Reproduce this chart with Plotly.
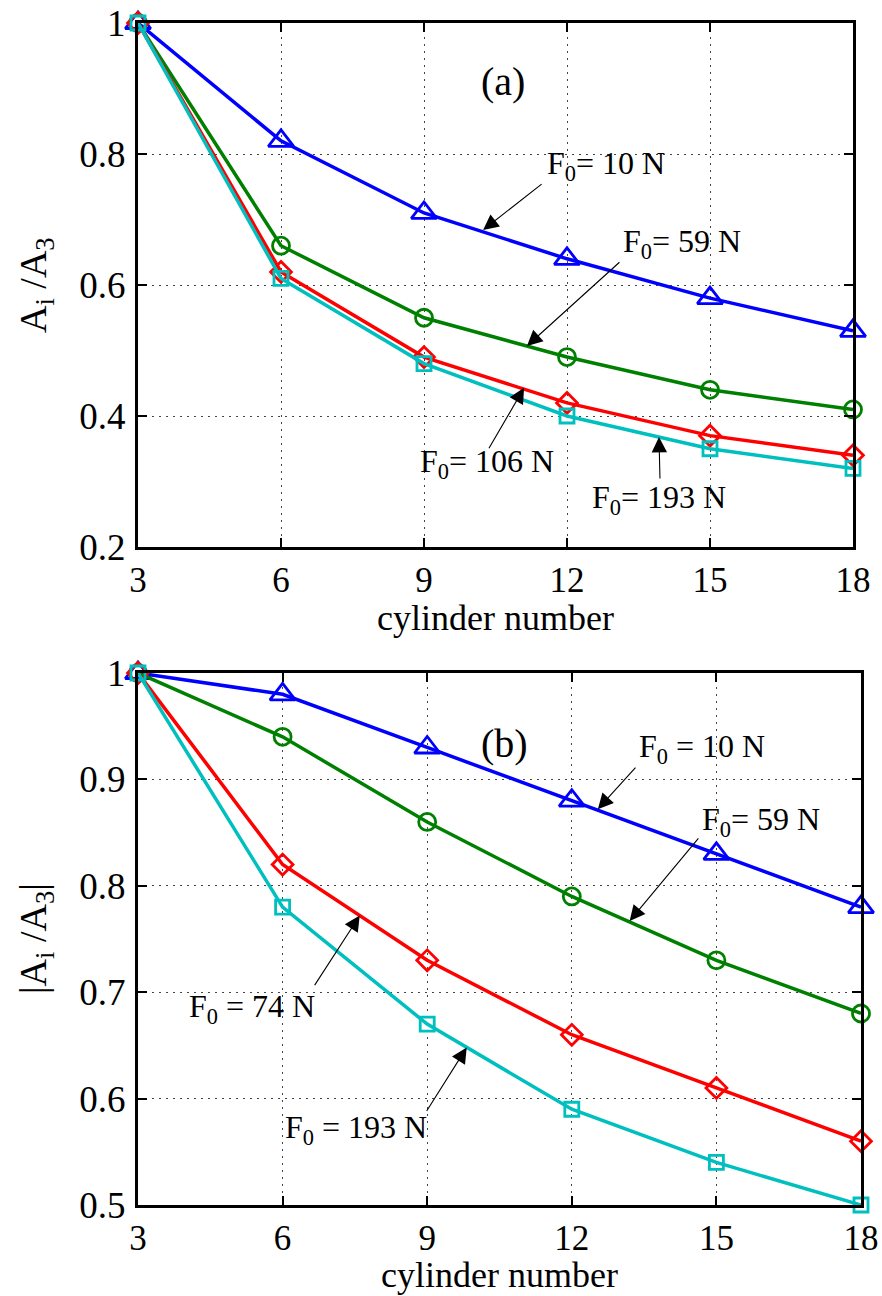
import plotly.graph_objects as go

# ---------------- data ----------------
cylinders = [3, 6, 9, 12, 15, 18]

# panel (a)
a_f10 = [1.00, 0.82, 0.71, 0.64, 0.58, 0.53]
a_f59 = [1.00, 0.66, 0.55, 0.49, 0.44, 0.41]
a_f106 = [1.00, 0.62, 0.49, 0.42, 0.37, 0.34]
a_f193 = [1.00, 0.61, 0.48, 0.40, 0.35, 0.32]

# panel (b)
b_f10 = [1.00, 0.98, 0.93, 0.88, 0.83, 0.78]
b_f59 = [1.00, 0.94, 0.86, 0.79, 0.73, 0.68]
b_f74 = [1.00, 0.82, 0.73, 0.66, 0.61, 0.56]
b_f193 = [1.00, 0.78, 0.67, 0.59, 0.54, 0.50]

x_ticks = [3, 6, 9, 12, 15, 18]
a_yticks = [0.2, 0.4, 0.6, 0.8, 1.0]
a_ytick_text = ["0.2", "0.4", "0.6", "0.8", "1"]
b_yticks = [0.5, 0.6, 0.7, 0.8, 0.9, 1.0]
b_ytick_text = ["0.5", "0.6", "0.7", "0.8", "0.9", "1"]

W, H = 882, 1296
FONT = "Liberation Serif, Times New Roman, serif"

BLUE, GREEN, RED, CYAN = "#0000FF", "#008000", "#FF0000", "#00BFBF"

styles = [
    (BLUE, "triangle-up-open", 22),
    (GREEN, "circle-open", 17),
    (RED, "diamond-open", 16),
    (CYAN, "square-open", 14),
]

fig = go.Figure()

def add_series(ys, sty, xa, ya):
    color, sym, size = sty
    fig.add_trace(go.Scatter(
        x=cylinders, y=ys, mode="lines+markers",
        line=dict(color=color, width=3.5),
        marker=dict(symbol=sym, size=size, color=color,
                    line=dict(color=color, width=2.8)),
        cliponaxis=False, showlegend=False, xaxis=xa, yaxis=ya))

for ys, sty in zip([a_f10, a_f59, a_f106, a_f193], styles):
    add_series(ys, sty, "x", "y")
for ys, sty in zip([b_f10, b_f59, b_f74, b_f193], styles):
    add_series(ys, sty, "x2", "y2")

def ax_common(fs):
    return dict(
        showline=True, linewidth=3, linecolor="black", mirror="ticks",
        ticks="inside", ticklen=9, tickwidth=2, tickcolor="black",
        showgrid=True, gridcolor="#444444", gridwidth=1, griddash="2px,5px",
        zeroline=False, automargin=False,
        tickfont=dict(family=FONT, size=fs, color="black"),
    )

fig.update_layout(
    width=W, height=H,
    margin=dict(l=0, r=0, t=0, b=0, autoexpand=False),
    paper_bgcolor="white", plot_bgcolor="white",
    font=dict(family=FONT, color="black"),
    xaxis=dict(domain=[138 / W, 853 / W], range=[3, 18], anchor="y",
               tickvals=x_ticks, ticktext=[str(v) for v in x_ticks], **ax_common(35)),
    yaxis=dict(domain=[1 - 547 / H, 1 - 23 / H], range=[0.2, 1], anchor="x",
               tickvals=a_yticks, ticktext=a_ytick_text, ticklabelstandoff=2, **ax_common(37)),
    xaxis2=dict(domain=[138 / W, 861 / W], range=[3, 18], anchor="y2",
                tickvals=x_ticks, ticktext=[str(v) for v in x_ticks], **ax_common(35)),
    yaxis2=dict(domain=[1 - 1205 / H, 1 - 673 / H], range=[0.5, 1], anchor="x2",
                tickvals=b_yticks, ticktext=b_ytick_text, ticklabelstandoff=2, **ax_common(37)),
)

ann = []

def label(text, x, y, xr, yr, size=32, xanchor="left"):
    ann.append(dict(text=text, x=x, y=y, xref=xr, yref=yr, showarrow=False,
                    xanchor=xanchor, yanchor="middle",
                    font=dict(family=FONT, size=size, color="black")))

def arrow(x, y, dx, dy, xr, yr):
    ann.append(dict(text="", x=x, y=y, xref=xr, yref=yr, ax=dx, ay=dy,
                    axref="pixel", ayref="pixel", showarrow=True,
                    arrowhead=2, arrowsize=2.8, arrowwidth=1.1, arrowcolor="black"))

# panel (a)
label("(a)", 10.66, 0.91, "x", "y", size=40, xanchor="center")
label("F<sub>0</sub>= 10 N", 11.54, 0.783, "x", "y")
arrow(10.24, 0.684, 60, -47, "x", "y")
label("F<sub>0</sub>= 59 N", 13.13, 0.664, "x", "y")
arrow(11.16, 0.507, 94, -85, "x", "y")
label("F<sub>0</sub>= 106 N", 8.87, 0.328, "x", "y")
arrow(11.10, 0.443, -36, 62, "x", "y")
label("F<sub>0</sub>= 193 N", 12.48, 0.272, "x", "y")
arrow(13.93, 0.368, 1, 43, "x", "y")

# panel (b)
label("(b)", 10.61, 0.934, "x2", "y2", size=40, xanchor="center")
label("F<sub>0</sub> = 10 N", 13.35, 0.929, "x2", "y2")
arrow(12.54, 0.872, 39, -43, "x2", "y2")
label("F<sub>0</sub>= 59 N", 14.65, 0.860, "x2", "y2")
arrow(13.20, 0.767, 70, -84, "x2", "y2")
label("F<sub>0</sub> = 74 N", 4.02, 0.685, "x2", "y2")
arrow(7.60, 0.772, -46, 71, "x2", "y2")
label("F<sub>0</sub> = 193 N", 6.01, 0.5705, "x2", "y2")
arrow(9.82, 0.648, -41, 65, "x2", "y2")

# axis titles
for text, py in [("A<sub>i</sub> /A<sub>3</sub>", 285), ("|A<sub>i</sub> /A<sub>3</sub>|", 939)]:
    ann.append(dict(text=text, x=36 / W, y=1 - py / H, xref="paper", yref="paper",
                    showarrow=False, textangle=-90, xanchor="center", yanchor="middle",
                    font=dict(family=FONT, size=38, color="black")))
for cx, py in [(495.5 / W, 618), (499.5 / W, 1275)]:
    ann.append(dict(text="cylinder number", x=cx, y=1 - py / H, xref="paper", yref="paper",
                    showarrow=False, xanchor="center", yanchor="middle",
                    font=dict(family=FONT, size=36, color="black")))

fig.update_layout(annotations=ann)
fig.write_html("out.html")
